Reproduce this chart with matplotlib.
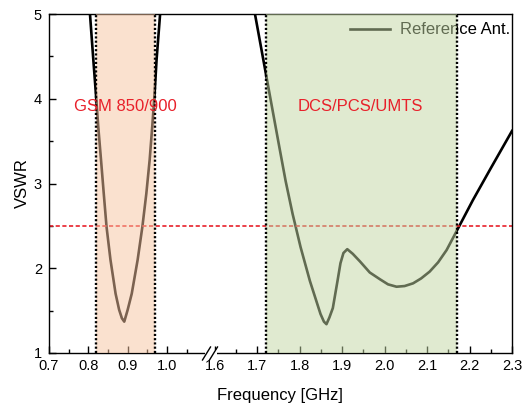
import numpy as np
import matplotlib

matplotlib.use("Agg")
import matplotlib.pyplot as plt
from matplotlib.lines import Line2D
from matplotlib.patches import Rectangle

plt.rcParams["font.family"] = ["Liberation Sans", "DejaVu Sans"]

# VSWR (low band / high band)
freq_low = [0.800, 0.804, 0.8125, 0.819, 0.825, 0.832, 0.839, 0.846, 0.856,
            0.869, 0.878, 0.885, 0.891, 0.8997, 0.910, 0.925, 0.937, 0.947,
            0.9555, 0.962, 0.968, 0.973, 0.982, 0.986]
vswr_low = [5.3, 5.0, 4.46, 4.06, 3.67, 3.28, 2.88, 2.49, 2.10,
            1.70, 1.51, 1.41, 1.37, 1.51, 1.70, 2.10, 2.49, 2.88,
            3.28, 3.67, 4.06, 4.46, 5.0, 5.3]
freq_high = [1.69, 1.6946, 1.7205, 1.7377, 1.752, 1.7668, 1.7833, 1.791,
             1.802, 1.824, 1.849, 1.857, 1.863, 1.870, 1.878, 1.889, 1.896,
             1.903, 1.912, 1.925, 1.942, 1.965, 1.989, 2.008, 2.028, 2.047,
             2.067, 2.086, 2.106, 2.126, 2.146, 2.175, 2.208, 2.25, 2.3]
vswr_high = [5.3, 5.0, 4.29, 3.82, 3.43, 3.03, 2.64, 2.48,
             2.25, 1.85, 1.46, 1.37, 1.34, 1.42, 1.53, 1.85, 2.06,
             2.18, 2.225, 2.17, 2.08, 1.95, 1.87, 1.81, 1.782, 1.79,
             1.822, 1.88, 1.96, 2.07, 2.215, 2.49, 2.805, 3.18, 3.62]

gsm_band = (0.82, 0.97)
dcs_band = (1.72, 2.17)
vswr_limit = 2.5

x_major = [0.7, 0.8, 0.9, 1.0, 1.6, 1.7, 1.8, 1.9, 2.0, 2.1, 2.2, 2.3]
x_minor = [0.75, 0.85, 0.95, 1.05, 1.65, 1.75, 1.85, 1.95, 2.05, 2.15, 2.25]

# broken axis: 0.7-1.1 and 1.6-2.3 squeezed together
brk_f = [0.7, 1.1, 1.6, 2.3]
brk_p = [0.0, 157.6, 165.8, 463.0]


def fwd(x):
    return np.interp(x, brk_f, brk_p)


def inv(p):
    return np.interp(p, brk_p, brk_f)


W, H = 526, 411
fig = plt.figure(figsize=(W / 100, H / 100), dpi=100)
ax = fig.add_axes([49 / W, 1 - 353 / H, 463 / W, 339 / H])
ax.set_xscale("function", functions=(fwd, inv))
ax.set_xlim(0.7, 2.3)
ax.set_ylim(1, 5)

red = "#e8202a"
ax.plot(freq_low, vswr_low, color="black", lw=1.9, zorder=2,
        label="Reference Ant.", solid_joinstyle="round")
ax.plot(freq_high, vswr_high, color="black", lw=1.9, zorder=2,
        solid_joinstyle="round")
ax.axhline(vswr_limit, color=red, lw=1.2, ls=(0, (2.5, 1.5)), zorder=2)

leg = ax.legend(loc="center right", bbox_to_anchor=(0.995, 0.953),
                frameon=False, fontsize=12, borderaxespad=0, borderpad=0,
                handlelength=2.4, handletextpad=0.6)
leg.set_zorder(3)

ax.axvspan(*gsm_band, color="#f7c5a1", alpha=0.5, lw=0, zorder=4)
ax.axvspan(*dcs_band, color="#c2d6a3", alpha=0.5, lw=0, zorder=4)
for f in gsm_band + dcs_band:
    ax.axvline(f, color="black", lw=1.7, ls=(0, (0.9, 0.9)), zorder=5)

ax.text(0.894, 3.91, "GSM 850/900", color=red, fontsize=12,
        ha="center", va="center", zorder=6)
ax.text(1.942, 3.91, "DCS/PCS/UMTS", color=red, fontsize=12,
        ha="center", va="center", zorder=6)

ax.set_xticks(x_major)
ax.set_xticklabels([f"{v:.1f}" for v in x_major])
ax.set_xticks(x_minor, minor=True)
ax.set_yticks([1, 2, 3, 4, 5])
ax.set_yticks([1.5, 2.5, 3.5, 4.5], minor=True)
ax.tick_params(which="both", direction="in", labelsize=10.5, width=1)
ax.tick_params(which="major", length=5, pad=4)
ax.tick_params(which="minor", length=3)
ax.tick_params(axis="y", pad=5)
for s in ax.spines.values():
    s.set_linewidth(1)

# axis break marks on the bottom spine
tr = fig.transFigure
fig.add_artist(Rectangle((205 / W, 1 - 356 / H), 12 / W, 6 / H,
                         facecolor="white", edgecolor="none",
                         transform=tr, zorder=10))
for x0 in (202.5, 209.5):
    fig.add_artist(Line2D([x0 / W, (x0 + 8) / W],
                          [1 - 360 / H, 1 - 347 / H],
                          color="black", lw=1, transform=tr, zorder=11))

fig.text(280 / W, 1 - 395 / H, "Frequency [GHz]", fontsize=12,
         ha="center", va="center")
fig.text(22 / W, 1 - 183 / H, "VSWR", fontsize=12, rotation=90,
         ha="center", va="center")

fig.savefig("out.png", dpi=100)
